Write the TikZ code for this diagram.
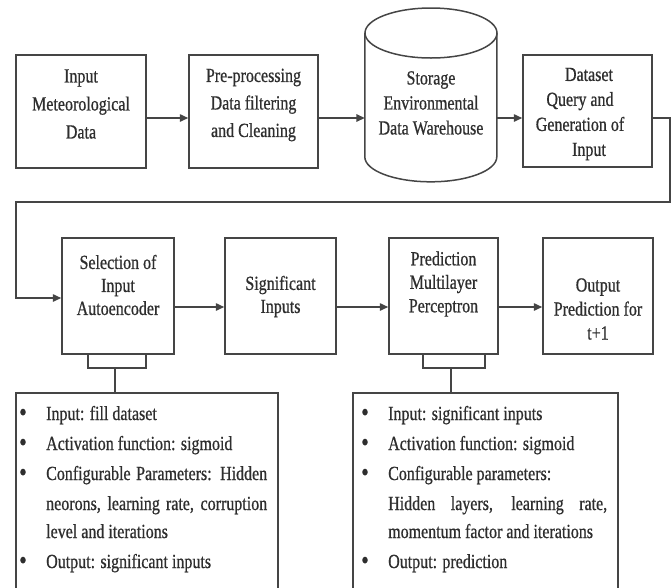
\documentclass[tikz,border=0pt]{standalone}
\usepackage{fontspec}
\setmainfont{Liberation Serif}[FakeStretch=0.8,FakeBold=0.7]
\usetikzlibrary{arrows.meta}
\definecolor{ln}{HTML}{454545}
\definecolor{tx}{HTML}{2E2E2E}
\begin{document}
\begin{tikzpicture}[x=1pt,y=-1pt,
  box/.style={draw=ln, line width=1.5pt, rectangle, inner sep=0pt, fill=white},
  lbl/.style={text=tx, align=center, inner sep=0pt},
  conn/.style={draw=ln, line width=1.5pt},
  arr/.style={draw=ln, line width=1.5pt, -{Triangle[length=8.5pt,width=7.5pt]}},
  item/.style={text=tx, font=\fontsize{20}{24}\selectfont, anchor=base west, inner sep=0pt},
  bul/.style={text=tx, font=\fontsize{27}{24}\selectfont, anchor=base, inner sep=0pt}]
\useasboundingbox (0,0) rectangle (672,587);
\clip (0,0) rectangle (672,587);
% row 1
\node[box, minimum width=130pt, minimum height=113pt] (b1) at (81,111.5) {};
\node[lbl, font=\fontsize{20}{28}\selectfont] (t1) at (81,104) {Input\\Meteorological\\Data};
\node[box, minimum width=129pt, minimum height=113pt] (b2) at (253.5,111.5) {};
\node[lbl, font=\fontsize{20}{27.5}\selectfont] (t2) at (253.5,105) {Pre-processing\\Data filtering\\and Cleaning};
\node[inner sep=0pt, minimum width=132pt, minimum height=174pt] (cyl) at (431,95) {};
\draw[conn] (cyl.north west) ++(0,25) -- ++(0,124) arc[start angle=180, end angle=360, x radius=66pt, y radius=25pt] -- ++(0,-124);
\draw[conn] (431,33) ellipse [x radius=66pt, y radius=25pt];
\node[lbl, font=\fontsize{20}{25}\selectfont] (t3) at (431,103) {Storage\\Environmental\\Data Warehouse};
\node[box, minimum width=129pt, minimum height=112pt] (b4) at (587.5,111) {};
\node[lbl, font=\fontsize{20}{25}\selectfont] (t4) at (580,114) {\hspace*{18pt}Dataset\\Query and\\Generation of\\\hspace*{18pt}Input};
\coordinate (r1) at (0,118);
\draw[arr] (b1.east |- r1) -- (b2.west |- r1);
\draw[arr] (b2.east |- r1) -- (cyl.west |- r1);
\draw[arr] (cyl.east |- r1) -- (b4.west |- r1);
% row 2
\node[box, minimum width=112pt, minimum height=116pt] (sel) at (118,296) {};
\node[lbl, font=\fontsize{20}{23}\selectfont] (t5) at (118,285) {Selection of\\Input\\Autoencoder};
\node[box, minimum width=111pt, minimum height=116pt] (sig) at (280.5,296) {};
\node[lbl, font=\fontsize{20}{23}\selectfont] (t6) at (280.5,296.5) {Significant\\Inputs};
\node[box, minimum width=109pt, minimum height=116pt] (pre) at (443.5,296) {};
\node[lbl, font=\fontsize{20}{23.5}\selectfont] (t7) at (443.5,284) {Prediction\\Multilayer\\Perceptron};
\node[box, minimum width=110pt, minimum height=116pt] (out) at (598,296) {};
\node[lbl, font=\fontsize{20}{24}\selectfont] (t8) at (598,309) {Output\\Prediction for\\t+1};
\coordinate (r2) at (0,307);
\draw[arr] (sel.east |- r2) -- (sig.west |- r2);
\draw[arr] (sig.east |- r2) -- (pre.west |- r2);
\draw[arr] (pre.east |- r2) -- (out.west |- r2);
% wrap connector
\coordinate (w1) at (670,202);
\coordinate (w2) at (16,298);
\draw[arr] (b4.east |- r1) -- (w1 |- r1) -- (w1) -- (w1 -| w2) -- (w2) -- (sel.west |- w2);
% bottom boxes
\node[box, minimum width=262pt, minimum height=230pt] (lb) at (147,508) {};
\node[box, minimum width=265pt, minimum height=230pt] (rb) at (485.5,508) {};
\draw[conn] (sel.south -| 88,0) -- (88,368) -- (146,368) -- (sel.south -| 146,0);
\draw[conn] (115,368) -- (lb.north -| 115,0);
\draw[conn] (pre.south -| 423,0) -- (423,368) -- (485,368) -- (pre.south -| 485,0);
\draw[conn] (451,368) -- (rb.north -| 451,0);
% left list
\node[bul] (lb1) at (23,421) {\textbullet};
\node[item] (li1) at (46,420) {Input: fill dataset};
\node[bul] (lb2) at (23,451) {\textbullet};
\node[item] (li2) at (46,450) {Activation function: sigmoid};
\node[bul] (lb3) at (23,481) {\textbullet};
\node[item] (li3) at (46,480) {\makebox[221pt][s]{Configurable Parameters: Hidden}};
\node[item] (li4) at (46,510) {\makebox[221pt][s]{neorons, learning rate, corruption}};
\node[item] (li5) at (46,538) {level and iterations};
\node[bul] (lb6) at (23,569) {\textbullet};
\node[item] (li6) at (46,568) {Output: significant inputs};
% right list
\node[bul] (rb1) at (365,421) {\textbullet};
\node[item] (ri1) at (388,420) {Input: significant inputs};
\node[bul] (rb2) at (365,451) {\textbullet};
\node[item] (ri2) at (388,450) {Activation function: sigmoid};
\node[bul] (rb3) at (365,481) {\textbullet};
\node[item] (ri3) at (388,480) {Configurable parameters:};
\node[item] (ri4) at (388,510) {\makebox[219pt][s]{Hidden layers, learning rate,}};
\node[item] (ri5) at (388,538) {momentum factor and iterations};
\node[bul] (rb6) at (365,569) {\textbullet};
\node[item] (ri6) at (388,568) {Output: prediction};
\end{tikzpicture}
\end{document}
